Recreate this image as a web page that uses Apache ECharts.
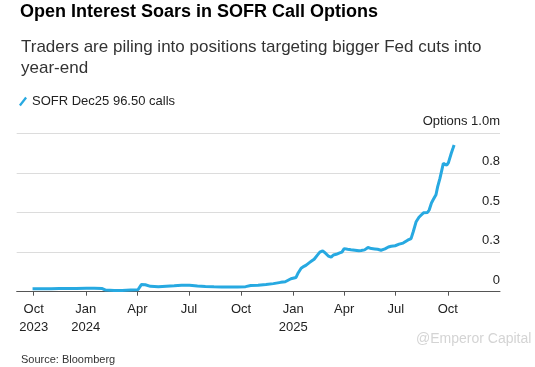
<!DOCTYPE html>
<html>
<head>
<meta charset="utf-8">
<script src="https://cdn.jsdelivr.net/npm/echarts@6/dist/echarts.min.js"></script>
<style>
html,body{margin:0;padding:0;background:#fff;}
#chart{width:535px;height:367px;}
</style>
</head>
<body>
<div id="chart"></div>
<script>
// ---- data ----
var seriesName = 'SOFR Dec25 96.50 calls';
var dates = [
'2023-09-29','2023-10-15','2023-11-01','2023-11-15','2023-12-01','2023-12-15',
'2024-01-02','2024-01-16','2024-01-30','2024-02-05','2024-02-20','2024-03-05',
'2024-03-20','2024-04-02','2024-04-08','2024-04-15','2024-04-24','2024-05-08',
'2024-05-22','2024-06-05','2024-06-18','2024-07-02','2024-07-16','2024-07-30',
'2024-08-14','2024-08-28','2024-09-11','2024-09-25','2024-10-09','2024-10-18',
'2024-10-31','2024-11-14','2024-11-27','2024-12-10','2024-12-13','2024-12-18',
'2024-12-28','2025-01-06','2025-01-10','2025-01-15','2025-01-20','2025-01-24',
'2025-01-29','2025-02-03','2025-02-07','2025-02-12','2025-02-17','2025-02-22',
'2025-02-27','2025-03-04','2025-03-09','2025-03-13','2025-03-18','2025-03-24',
'2025-03-28','2025-04-01','2025-04-07','2025-04-13','2025-04-20','2025-04-27',
'2025-05-01','2025-05-07','2025-05-13','2025-05-19','2025-05-25','2025-05-30',
'2025-06-05','2025-06-12','2025-06-18','2025-06-23','2025-06-30','2025-07-07',
'2025-07-14','2025-07-22','2025-07-28','2025-08-01','2025-08-06','2025-08-11',
'2025-08-15','2025-08-19','2025-08-22','2025-08-26','2025-08-29','2025-09-02',
'2025-09-05','2025-09-08','2025-09-10','2025-09-13','2025-09-17','2025-09-19',
'2025-09-23','2025-09-26','2025-09-29','2025-10-02','2025-10-04','2025-10-07',
'2025-10-10','2025-10-12'
];
var values = [
0.018,0.019,0.019,0.020,0.020,0.020,
0.021,0.021,0.020,0.010,0.008,0.008,
0.011,0.012,0.045,0.044,0.034,0.032,
0.035,0.037,0.040,0.040,0.036,0.033,
0.031,0.030,0.030,0.030,0.032,0.039,
0.041,0.046,0.051,0.059,0.068,0.063,
0.082,0.090,0.120,0.148,0.160,0.168,
0.182,0.195,0.205,0.228,0.250,0.258,
0.243,0.225,0.218,0.232,0.236,0.245,
0.250,0.272,0.268,0.265,0.262,0.258,
0.260,0.264,0.279,0.272,0.270,0.268,
0.262,0.270,0.282,0.287,0.290,0.300,
0.307,0.325,0.335,0.380,0.442,0.470,
0.484,0.498,0.505,0.500,0.516,0.560,
0.580,0.590,0.612,0.663,0.715,0.747,
0.810,0.800,0.798,0.815,0.822,0.874,
0.905,0.926
];
var xTickDates = ['2023-10-01','2024-01-01','2024-04-01','2024-07-01','2024-10-01','2025-01-01','2025-04-01','2025-07-01','2025-10-01'];
var xTickLabels = ['Oct\n2023','Jan\n2024','Apr','Jul','Oct','Jan\n2025','Apr','Jul','Oct'];
var yTickValues = [0, 0.25, 0.5, 0.75, 1.0];
var yTickLabels = ['0','0.3','0.5','0.8','Options 1.0m'];
var xMin = '2023-09-01', xMax = '2026-01-01';

function ts(s){ var p = s.split('-'); return Date.UTC(+p[0], +p[1]-1, +p[2]); }
var xTickTs = xTickDates.map(ts);
var seriesData = dates.map(function(d,i){ return [ts(d), values[i]]; });

var FONT = '"Liberation Sans", Arial, sans-serif';
var chart = echarts.init(document.getElementById('chart'), null, {renderer:'canvas'});
chart.setOption({
  animation: false,
  backgroundColor: '#fff',
  textStyle: {fontFamily: FONT},
  title: [
    {text: 'Open Interest Soars in SOFR Call Options', left: 15, top: -2,
     textStyle: {fontSize: 18, fontWeight: 'bold', color: '#000', fontFamily: FONT}},
    {text: 'Traders are piling into positions targeting bigger Fed cuts into\nyear-end', left: 16, top: 32,
     textStyle: {fontSize: 17, fontWeight: 'normal', color: '#333', lineHeight: 21, fontFamily: FONT}},
    {text: 'Source: Bloomberg', left: 16, top: 349,
     textStyle: {fontSize: 11, fontWeight: 'normal', color: '#333', fontFamily: FONT}}
  ],
  graphic: [
    {type: 'text', left: 416, top: 332, silent: true,
     style: {text: '@Emperor Capital', fill: '#d4d4d4', font: '14px ' + FONT}}
  ],
  legend: {
    left: 14, top: 90, itemWidth: 8, itemHeight: 10, itemGap: 8,
    icon: 'path://M0,9 L7,0 L9,1.5 L2,10.5 Z',
    textStyle: {fontSize: 13, color: '#222', fontFamily: FONT},
    data: [seriesName]
  },
  grid: {left: 16.7, right: 35, top: 133.3, bottom: 75.3, containLabel: false},
  xAxis: {
    type: 'value',
    min: ts(xMin), max: ts(xMax),
    axisLine: {show: true, lineStyle: {color: '#555', width: 1}},
    axisTick: {show: true, length: 4, lineStyle: {color: '#555'}, customValues: xTickTs},
    axisLabel: {
      customValues: xTickTs,
      margin: 9, fontSize: 13, lineHeight: 18, color: '#222', fontFamily: FONT,
      formatter: function(v){
        var best = 0, bd = Infinity;
        for (var i=0;i<xTickTs.length;i++){ var d = Math.abs(xTickTs[i]-v); if (d<bd){bd=d;best=i;} }
        return xTickLabels[best];
      }
    },
    splitLine: {show: false}
  },
  yAxis: {
    type: 'value', position: 'right', min: 0, max: 1, interval: 0.25,
    axisLine: {show: false}, axisTick: {show: false},
    splitLine: {show: true, lineStyle: {color: '#dcdcdc', width: 1}},
    axisLabel: {
      inside: true, margin: 0, align: 'right', verticalAlign: 'bottom',
      padding: [0,0,5,0], fontSize: 13, color: '#222', fontFamily: FONT,
      formatter: function(v){
        for (var i=0;i<yTickValues.length;i++){ if (Math.abs(yTickValues[i]-v)<1e-6) return yTickLabels[i]; }
        return '';
      }
    }
  },
  series: [{
    name: seriesName, type: 'line', data: seriesData,
    showSymbol: false, symbol: 'none',
    lineStyle: {color: '#27a9e1', width: 3},
    itemStyle: {color: '#27a9e1'},
    z: 3
  }]
});
</script>
</body>
</html>
